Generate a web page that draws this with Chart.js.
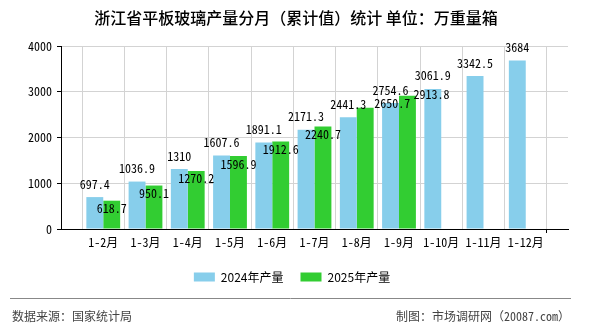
<!DOCTYPE html>
<html>
<head>
<meta charset="utf-8">
<script src="https://cdn.jsdelivr.net/npm/chart.js@4/dist/chart.umd.min.js"></script>
<style>
  html, body { margin: 0; padding: 0; background: #fff; }
  canvas { display: block; }
</style>
</head>
<body>
<canvas id="c" width="590" height="330"></canvas>
<script>
// ======== DATA ========
const categories = ["", "1-2月", "1-3月", "1-4月", "1-5月", "1-6月", "1-7月", "1-8月", "1-9月", "1-10月", "1-11月", "1-12月", ""];
const values2024 = [null, 697.4, 1036.9, 1310, 1607.6, 1891.1, 2171.3, 2441.3, 2754.6, 3061.9, 3342.5, 3684, null];
const values2025 = [null, 618.7, 950.1, 1270.2, 1596.9, 1912.6, 2240.7, 2650.7, 2913.8, null, null, null, null];
const yTicks = [0, 1000, 2000, 3000, 4000];

const titleText = "浙江省平板玻璃产量分月（累计值）统计 单位：万重量箱";
const sourceText = "数据来源：国家统计局";
const makerText = "制图：市场调研网（20087.com）";

// label nudges for the 2025 series (the original moved two labels to avoid overlap)
const nudge2025 = { 7: [27, -12], 8: [24, -9] };

const MONO = "'Noto Sans Mono CJK SC', 'Liberation Mono', monospace";
const SANS = "'Noto Sans CJK SC', 'Noto Sans', sans-serif";

// ======== PLUGINS ========
const decor = {
  id: "decor",
  afterDatasetsDraw(chart) {
    const ctx = chart.ctx;
    ctx.save();
    ctx.font = "12px " + MONO;
    ctx.fillStyle = "#000";
    ctx.textAlign = "center";
    ctx.textBaseline = "middle";
    chart.data.datasets.forEach((ds, di) => {
      const meta = chart.getDatasetMeta(di);
      meta.data.forEach((bar, i) => {
        const v = ds.data[i];
        if (v == null) return;
        if (di === 0) {
          ctx.fillText(String(v), bar.x, bar.y - 13);
        } else {
          const n = nudge2025[i] || [0, 0];
          ctx.fillText(String(v), bar.x + n[0], bar.y + 8 + n[1]);
        }
      });
    });
    ctx.restore();
  },
  afterDraw(chart) {
    const ctx = chart.ctx;
    ctx.save();
    // title
    ctx.font = "500 16px " + SANS;
    ctx.fillStyle = "#000";
    ctx.textAlign = "center";
    ctx.textBaseline = "middle";
    ctx.fillText(titleText, 296, 18);

    // legend
    ctx.font = "12px " + SANS;
    const items = chart.data.datasets.map(ds => ({ label: ds.label, color: ds.backgroundColor }));
    const boxW = 21, boxH = 9, gap = 6, between = 17;
    let total = 0;
    items.forEach((it, k) => {
      it.w = ctx.measureText(it.label).width;
      total += boxW + gap + it.w + (k ? between : 0);
    });
    let x = 292 - total / 2;
    const ly = 277;
    ctx.textAlign = "left";
    items.forEach(it => {
      ctx.fillStyle = it.color;
      ctx.fillRect(x, ly - 4.5, boxW, boxH);
      ctx.fillStyle = "#000";
      ctx.fillText(it.label, x + boxW + gap, ly);
      x += boxW + gap + it.w + between;
    });

    // footer
    ctx.strokeStyle = "#888";
    ctx.lineWidth = 1;
    ctx.beginPath();
    ctx.moveTo(10, 298.5);
    ctx.lineTo(571, 298.5);
    ctx.stroke();
    ctx.fillStyle = "#444";
    ctx.font = "12px " + SANS;
    ctx.textAlign = "left";
    ctx.fillText(sourceText, 12, 316);
    ctx.font = "12px " + MONO;
    ctx.textAlign = "right";
    ctx.fillText(makerText, 570, 316);
    ctx.restore();
  }
};

// ======== CHART ========
new Chart(document.getElementById("c"), {
  type: "bar",
  data: {
    labels: categories,
    datasets: [
      { label: "2024年产量", data: values2024, backgroundColor: "#87CEEB", borderWidth: 0 },
      { label: "2025年产量", data: values2025, backgroundColor: "#32CD32", borderWidth: 0 }
    ]
  },
  options: {
    responsive: false,
    animation: false,
    layout: { padding: { left: 0, right: 22, top: 46, bottom: 79 } },
    datasets: { bar: { barPercentage: 1, categoryPercentage: 0.8 } },
    plugins: { legend: { display: false }, tooltip: { enabled: false }, title: { display: false } },
    scales: {
      x: {
        offset: false,
        grid: {
          color: "#d3d3d3",
          tickLength: 4,
          tickColor: c => (c.index === 0 || c.index === categories.length - 1) ? "#000" : "rgba(0,0,0,0)"
        },
        border: { color: "#000" },
        ticks: {
          autoSkip: false,
          maxRotation: 0,
          padding: 2,
          color: "#000",
          font: { family: MONO, size: 12 }
        },
        afterFit: s => { s.height = 22; }
      },
      y: {
        min: 0,
        max: 4000,
        afterBuildTicks: s => { s.ticks = yTicks.map(v => ({ value: v })); },
        grid: { color: "#d3d3d3", tickLength: 4, tickColor: "#000" },
        border: { color: "#000" },
        ticks: {
          padding: 5,
          color: "#000",
          font: { family: MONO, size: 12 },
          callback: v => String(v)
        },
        afterFit: s => { s.width = 61; }
      }
    }
  },
  plugins: [decor]
});
</script>
</body>
</html>
